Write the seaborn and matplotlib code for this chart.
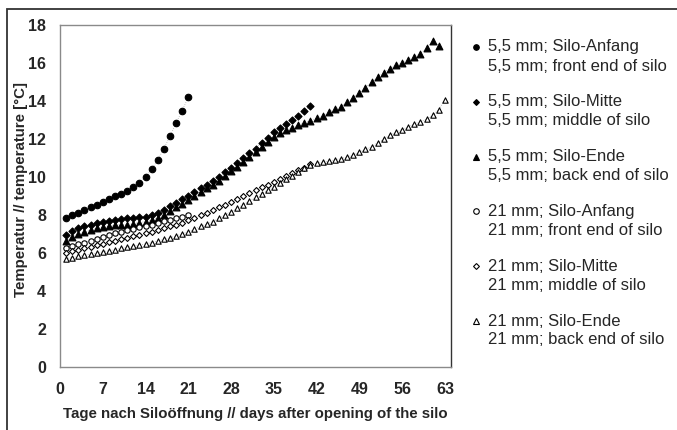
import numpy as np
import pandas as pd
import matplotlib
matplotlib.use("Agg")
import matplotlib.pyplot as plt
from matplotlib.patches import Rectangle
import seaborn as sns

# Temperatures (days after opening of the silo)
days_21 = list(range(1, 22))
days_41 = list(range(1, 42))
days_62 = list(range(1, 63))
days_63 = list(range(1, 64))

t55_anfang = [7.84, 7.98, 8.12, 8.27, 8.41, 8.55, 8.70, 8.84, 8.98, 9.13, 9.28,
              9.46, 9.68, 10.0, 10.4, 10.9, 11.5, 12.14, 12.84, 13.5, 14.2]
t55_mitte = [6.95, 7.15, 7.3, 7.4, 7.5, 7.6, 7.65, 7.7, 7.75, 7.8, 7.82, 7.85,
             7.88, 7.92, 8.0, 8.1, 8.25, 8.45, 8.65, 8.85, 9.0, 9.2, 9.4, 9.6,
             9.8, 10.0, 10.25, 10.5, 10.75, 11.0, 11.25, 11.5, 11.8, 12.05,
             12.35, 12.56, 12.77, 13.0, 13.21, 13.47, 13.74]
t55_ende = [6.65, 6.85, 7.0, 7.1, 7.2, 7.3, 7.35, 7.4, 7.45, 7.5, 7.5, 7.55,
            7.6, 7.65, 7.75, 7.85, 8.0, 8.2, 8.4, 8.6, 8.8, 9.0, 9.2, 9.4,
            9.6, 9.8, 10.05, 10.3, 10.55, 10.8, 11.05, 11.3, 11.6, 11.85, 12.1,
            12.3, 12.45, 12.6, 12.72, 12.86, 12.96, 13.1, 13.2, 13.4, 13.56,
            13.7, 13.96, 14.16, 14.44, 14.7, 15.0, 15.25, 15.5, 15.7, 15.9,
            16.0, 16.16, 16.3, 16.5, 16.77, 17.17, 16.9]
t21_anfang = [6.25, 6.35, 6.45, 6.55, 6.65, 6.75, 6.85, 6.95, 7.05, 7.12, 7.2,
              7.28, 7.35, 7.42, 7.5, 7.58, 7.66, 7.75, 7.83, 7.92, 8.02]
t21_mitte = [6.0, 6.08, 6.16, 6.24, 6.32, 6.4, 6.48, 6.56, 6.64, 6.72, 6.8,
             6.88, 6.96, 7.04, 7.12, 7.2, 7.3, 7.4, 7.5, 7.6, 7.72, 7.85, 7.98,
             8.12, 8.26, 8.4, 8.55, 8.7, 8.85, 9.0, 9.15, 9.3, 9.45, 9.6, 9.75,
             9.9, 10.05, 10.2, 10.35, 10.5, 10.7]
t21_ende = [5.7, 5.76, 5.82, 5.88, 5.94, 6.0, 6.06, 6.12, 6.18, 6.24, 6.3,
            6.36, 6.42, 6.48, 6.55, 6.63, 6.72, 6.8, 6.9, 7.0, 7.12, 7.26, 7.4,
            7.52, 7.65, 7.82, 8.0, 8.18, 8.36, 8.55, 8.74, 8.93, 9.12, 9.31,
            9.5, 9.7, 9.88, 10.05, 10.25, 10.45, 10.62, 10.72, 10.78, 10.84,
            10.9, 10.97, 11.05, 11.15, 11.3, 11.45, 11.6, 11.8, 12.0, 12.2,
            12.35, 12.5, 12.65, 12.8, 12.9, 13.05, 13.25, 13.55, 14.05]

legend_de = ["5,5 mm; Silo-Anfang", "5,5 mm; Silo-Mitte", "5,5 mm; Silo-Ende",
             "21 mm; Silo-Anfang", "21 mm; Silo-Mitte", "21 mm; Silo-Ende"]
legend_en = ["5,5 mm; front end of silo", "5,5 mm; middle of silo",
             "5,5 mm; back end of silo", "21 mm; front end of silo",
             "21 mm; middle of silo", "21 mm; back end of silo"]

xticks = [0, 7, 14, 21, 28, 35, 42, 49, 56, 63]
yticks = [0, 2, 4, 6, 8, 10, 12, 14, 16, 18]

series = [
    (days_21, t55_anfang, "o", "black", 22),
    (days_41, t55_mitte, "D", "black", 13),
    (days_62, t55_ende, "^", "black", 24),
    (days_21, t21_anfang, "o", "white", 15),
    (days_41, t21_mitte, "D", "white", 9),
    (days_63, t21_ende, "^", "white", 15),
]

sns.set_style("white")
plt.rcParams["font.family"] = ["Liberation Sans", "DejaVu Sans"]

fig = plt.figure(figsize=(6.77, 4.30), dpi=100)
ax = fig.add_axes([60 / 677, 63 / 430, 391 / 677, 342 / 430])

for (d, t, m, fc, s), lab in zip(series, legend_de):
    df = pd.DataFrame({"day": d, "temp": t})
    sns.lineplot(data=df, x="day", y="temp", ax=ax, color="#b0b0b0",
                 lw=0.6, ls=":", zorder=1)
    sns.scatterplot(data=df, x="day", y="temp", ax=ax, marker=m, s=s,
                    facecolor=fc, edgecolor="black", linewidth=0.8, zorder=3)

ax.set_xlim(0, 64)
ax.set_ylim(0, 18)
ax.set_xticks(xticks)
ax.set_yticks(yticks)
ax.tick_params(axis="both", length=3, color="#888888", labelsize=11.5)
ax.tick_params(axis="x", pad=8)
ax.tick_params(axis="y", pad=7)
for lbl in ax.get_xticklabels() + ax.get_yticklabels():
    lbl.set_fontweight("bold")
for sp in ax.spines.values():
    sp.set_color("#8a8a8a")
    sp.set_linewidth(1.0)
ax.spines["right"].set_color("#333333")

ax.set_xlabel("Tage nach Siloöffnung // days after opening of the silo",
              fontsize=10.8, fontweight="bold")
ax.set_ylabel("Temperatur // temperature [°C]", fontsize=10.8,
              fontweight="bold")
ax.xaxis.set_label_coords(0.5, -0.116)
ax.yaxis.set_label_coords(-0.083, 0.519)

# legend drawn by hand: marker next to the first of two lines
for i, (ser, de, en) in enumerate(zip(series, legend_de, legend_en)):
    y = 1 - (47 + i * 54.8) / 430
    fig.lines.append(plt.Line2D([476 / 677], [y], marker=ser[2], ls="none",
                                markersize=4 if ser[2] != "D" else 3,
                                markerfacecolor=ser[3],
                                markeredgecolor="black",
                                markeredgewidth=0.8,
                                transform=fig.transFigure))
    fig.text(488 / 677, y, de, fontsize=12, va="center", ha="left")
    fig.text(488 / 677, y - 19 / 430, en, fontsize=12, va="center",
             ha="left")

fig.patches.append(Rectangle((7 / 677, -0.1), 1.2, 1 - 9 / 430 + 0.1,
                             transform=fig.transFigure, fill=False,
                             edgecolor="#333333", lw=1.3))

fig.savefig("out.png", dpi=100)
